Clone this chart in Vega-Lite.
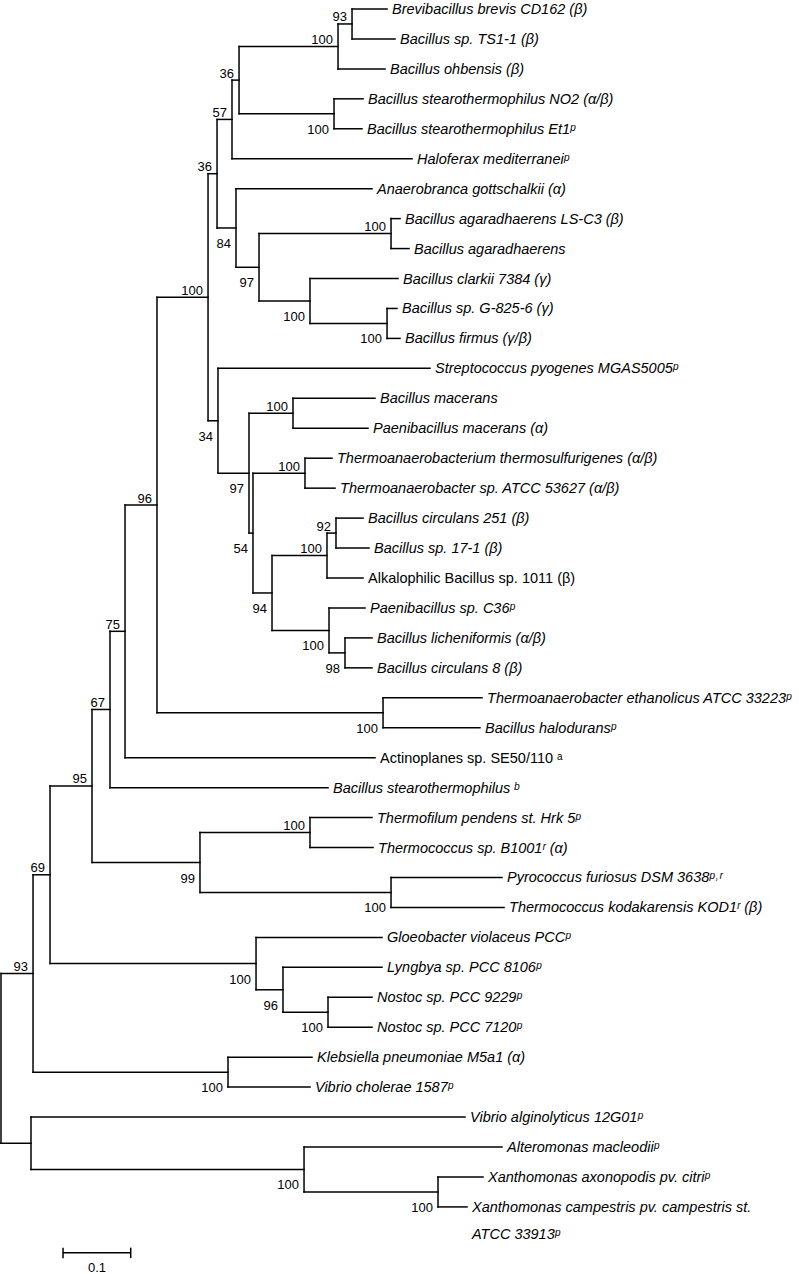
{
  "$schema": "https://vega.github.io/schema/vega-lite/v6.json",
  "width": 799,
  "height": 1274,
  "autosize": {"type": "none"},
  "padding": 0,
  "background": "white",
  "config": {"view": {"stroke": null}, "text": {"font": "Liberation Sans", "color": "black"}},
  "datasets": {
    "tree": [
      {"id":"root","dist":0,"y":36.04,"lo":33.205,"hi":38.875},
      {"id":"n93r","dist":0.0473,"parentDist":0,"y":33.205,"lo":29.91,"hi":36.5,"support":"93","side":"above"},
      {"id":"nB","dist":0.0443,"parentDist":0,"y":38.875,"lo":38,"hi":39.75},
      {"id":"n69","dist":0.0724,"parentDist":0.0473,"y":29.91,"lo":26.945,"hi":32.875,"support":"69","side":"above"},
      {"id":"nKl","dist":0.3353,"parentDist":0.0473,"y":36.5,"lo":36,"hi":37,"support":"100","side":"below"},
      {"id":"n95","dist":0.1344,"parentDist":0.0724,"y":26.945,"lo":24.39,"hi":29.5,"support":"95","side":"above"},
      {"id":"nGl","dist":0.3767,"parentDist":0.0724,"y":32.875,"lo":32,"hi":33.75,"support":"100","side":"below"},
      {"id":"n67","dist":0.1610,"parentDist":0.1344,"y":24.39,"lo":21.78,"hi":27,"support":"67","side":"above"},
      {"id":"n99","dist":0.2939,"parentDist":0.1344,"y":29.5,"lo":28.5,"hi":30.5,"support":"99","side":"below"},
      {"id":"n75","dist":0.1832,"parentDist":0.1610,"y":21.78,"lo":17.5625,"hi":26,"support":"75","side":"above"},
      {"id":"L27","dist":0.4830,"parentDist":0.1610,"y":27,"label":"Bacillus stearothermophilus ᵇ"},
      {"id":"n96","dist":0.2304,"parentDist":0.1832,"y":17.5625,"lo":10.625,"hi":24.5,"support":"96","side":"above"},
      {"id":"L26","dist":0.5524,"parentDist":0.1832,"y":26,"label":"Actinoplanes sp. SE50/110 ᵃ"},
      {"id":"n100","dist":0.3058,"parentDist":0.2304,"y":10.625,"lo":6.5,"hi":14.75,"support":"100","side":"above"},
      {"id":"nE","dist":0.5643,"parentDist":0.2304,"y":24.5,"lo":24,"hi":25,"support":"100","side":"below"},
      {"id":"L24","dist":0.7105,"parentDist":0.5643,"y":24,"label":"Thermoanaerobacter ethanolicus ATCC 33223ᵖ"},
      {"id":"L25","dist":0.7075,"parentDist":0.5643,"y":25,"label":"Bacillus haloduransᵖ"},
      {"id":"n36b","dist":0.3191,"parentDist":0.3058,"y":6.5,"lo":4.6875,"hi":8.3125,"support":"36","side":"above"},
      {"id":"n34","dist":0.3205,"parentDist":0.3058,"y":14.75,"lo":13,"hi":16.5,"support":"34","side":"below"},
      {"id":"n57","dist":0.3412,"parentDist":0.3191,"y":4.6875,"lo":3.375,"hi":6,"support":"57","side":"above"},
      {"id":"n84","dist":0.3471,"parentDist":0.3191,"y":8.3125,"lo":7,"hi":9.625,"support":"84","side":"below"},
      {"id":"n36a","dist":0.3516,"parentDist":0.3412,"y":3.375,"lo":2.25,"hi":4.5,"support":"36","side":"above"},
      {"id":"L6","dist":0.6071,"parentDist":0.3412,"y":6,"label":"Haloferax mediterraneiᵖ"},
      {"id":"n100a","dist":0.4978,"parentDist":0.3516,"y":2.25,"lo":1.5,"hi":3,"support":"100","side":"above"},
      {"id":"nSt","dist":0.4919,"parentDist":0.3516,"y":4.5,"lo":4,"hi":5,"support":"100","side":"below"},
      {"id":"n93","dist":0.5185,"parentDist":0.4978,"y":1.5,"lo":1,"hi":2,"support":"93","side":"above"},
      {"id":"L3","dist":0.5672,"parentDist":0.4978,"y":3,"label":"Bacillus ohbensis (β)"},
      {"id":"L1","dist":0.5702,"parentDist":0.5185,"y":1,"label":"Brevibacillus brevis CD162 (β)"},
      {"id":"L2","dist":0.5820,"parentDist":0.5185,"y":2,"label":"Bacillus sp. TS1-1 (β)"},
      {"id":"L4","dist":0.5347,"parentDist":0.4919,"y":4,"label":"Bacillus stearothermophilus NO2 (α/β)"},
      {"id":"L5","dist":0.5332,"parentDist":0.4919,"y":5,"label":"Bacillus stearothermophilus Et1ᵖ"},
      {"id":"L7","dist":0.5480,"parentDist":0.3471,"y":7,"label":"Anaerobranca gottschalkii (α)"},
      {"id":"n97b","dist":0.3811,"parentDist":0.3471,"y":9.625,"lo":8.5,"hi":10.75,"support":"97","side":"below"},
      {"id":"n100c","dist":0.5761,"parentDist":0.3811,"y":8.5,"lo":8,"hi":9,"support":"100","side":"above"},
      {"id":"n100d","dist":0.4564,"parentDist":0.3811,"y":10.75,"lo":10,"hi":11.5,"support":"100","side":"below"},
      {"id":"L8","dist":0.5894,"parentDist":0.5761,"y":8,"label":"Bacillus agaradhaerens LS-C3 (β)"},
      {"id":"L9","dist":0.6027,"parentDist":0.5761,"y":9,"label":"Bacillus agaradhaerens"},
      {"id":"L10","dist":0.5864,"parentDist":0.4564,"y":10,"label":"Bacillus clarkii 7384 (γ)"},
      {"id":"n100e","dist":0.5702,"parentDist":0.4564,"y":11.5,"lo":11,"hi":12,"support":"100","side":"below"},
      {"id":"L11","dist":0.5849,"parentDist":0.5702,"y":11,"label":"Bacillus sp. G-825-6 (γ)"},
      {"id":"L12","dist":0.5894,"parentDist":0.5702,"y":12,"label":"Bacillus firmus (γ/β)"},
      {"id":"L13","dist":0.6337,"parentDist":0.3205,"y":13,"label":"Streptococcus pyogenes MGAS5005ᵖ"},
      {"id":"n97","dist":0.3663,"parentDist":0.3205,"y":16.5,"lo":14.5,"hi":18.5,"support":"97","side":"below"},
      {"id":"nMac","dist":0.4313,"parentDist":0.3663,"y":14.5,"lo":14,"hi":15,"support":"100","side":"above"},
      {"id":"L14","dist":0.5524,"parentDist":0.4313,"y":14,"label":"Bacillus macerans"},
      {"id":"L15","dist":0.5421,"parentDist":0.4313,"y":15,"label":"Paenibacillus macerans (α)"},
      {"id":"n54","dist":0.3722,"parentDist":0.3663,"y":18.5,"lo":16.5,"hi":20.5,"support":"54","side":"below"},
      {"id":"nTh","dist":0.4490,"parentDist":0.3722,"y":16.5,"lo":16,"hi":17,"support":"100","side":"above"},
      {"id":"L16","dist":0.4889,"parentDist":0.4490,"y":16,"label":"Thermoanaerobacterium thermosulfurigenes (α/β)"},
      {"id":"L17","dist":0.4934,"parentDist":0.4490,"y":17,"label":"Thermoanaerobacter sp. ATCC 53627 (α/β)"},
      {"id":"n94","dist":0.4003,"parentDist":0.3722,"y":20.5,"lo":19.25,"hi":21.75,"support":"94","side":"below"},
      {"id":"n100f","dist":0.4815,"parentDist":0.4003,"y":19.25,"lo":18.5,"hi":20,"support":"100","side":"above"},
      {"id":"n92","dist":0.4948,"parentDist":0.4815,"y":18.5,"lo":18,"hi":19,"support":"92","side":"above"},
      {"id":"L18","dist":0.5347,"parentDist":0.4948,"y":18,"label":"Bacillus circulans 251 (β)"},
      {"id":"L19","dist":0.5436,"parentDist":0.4948,"y":19,"label":"Bacillus sp. 17-1 (β)"},
      {"id":"L20","dist":0.5347,"parentDist":0.4815,"y":20,"label":"Alkalophilic Bacillus sp. 1011 (β)"},
      {"id":"n100g","dist":0.4845,"parentDist":0.4003,"y":21.75,"lo":21,"hi":22.5,"support":"100","side":"below"},
      {"id":"L21","dist":0.5377,"parentDist":0.4845,"y":21,"label":"Paenibacillus sp. C36ᵖ"},
      {"id":"n98","dist":0.5081,"parentDist":0.4845,"y":22.5,"lo":22,"hi":23,"support":"98","side":"below"},
      {"id":"L22","dist":0.5480,"parentDist":0.5081,"y":22,"label":"Bacillus licheniformis (α/β)"},
      {"id":"L23","dist":0.5480,"parentDist":0.5081,"y":23,"label":"Bacillus circulans 8 (β)"},
      {"id":"nTf","dist":0.4564,"parentDist":0.2939,"y":28.5,"lo":28,"hi":29,"support":"100","side":"above"},
      {"id":"L28","dist":0.5480,"parentDist":0.4564,"y":28,"label":"Thermofilum pendens st. Hrk 5ᵖ"},
      {"id":"L29","dist":0.5495,"parentDist":0.4564,"y":29,"label":"Thermococcus sp. B1001ʳ (α)"},
      {"id":"nPy","dist":0.5761,"parentDist":0.2939,"y":30.5,"lo":30,"hi":31,"support":"100","side":"below"},
      {"id":"L30","dist":0.7400,"parentDist":0.5761,"y":30,"label":"Pyrococcus furiosus DSM 3638ᵖ˒ʳ"},
      {"id":"L31","dist":0.7430,"parentDist":0.5761,"y":31,"label":"Thermococcus kodakarensis KOD1ʳ (β)"},
      {"id":"L32","dist":0.5628,"parentDist":0.3767,"y":32,"label":"Gloeobacter violaceus PCCᵖ"},
      {"id":"n96b","dist":0.4165,"parentDist":0.3767,"y":33.75,"lo":33,"hi":34.5,"support":"96","side":"below"},
      {"id":"L33","dist":0.5628,"parentDist":0.4165,"y":33,"label":"Lyngbya sp. PCC 8106ᵖ"},
      {"id":"nNo","dist":0.4830,"parentDist":0.4165,"y":34.5,"lo":34,"hi":35,"support":"100","side":"below"},
      {"id":"L34","dist":0.5480,"parentDist":0.4830,"y":34,"label":"Nostoc sp. PCC 9229ᵖ"},
      {"id":"L35","dist":0.5480,"parentDist":0.4830,"y":35,"label":"Nostoc sp. PCC 7120ᵖ"},
      {"id":"L36","dist":0.4594,"parentDist":0.3353,"y":36,"label":"Klebsiella pneumoniae M5a1 (α)"},
      {"id":"L37","dist":0.4564,"parentDist":0.3353,"y":37,"label":"Vibrio cholerae 1587ᵖ"},
      {"id":"L38","dist":0.6854,"parentDist":0.0443,"y":38,"label":"Vibrio alginolyticus 12G01ᵖ"},
      {"id":"nC","dist":0.4476,"parentDist":0.0443,"y":39.75,"lo":39,"hi":40.5,"support":"100","side":"below"},
      {"id":"L39","dist":0.7400,"parentDist":0.4476,"y":39,"label":"Alteromonas macleodiiᵖ"},
      {"id":"nX","dist":0.6455,"parentDist":0.4476,"y":40.5,"lo":40,"hi":41,"support":"100","side":"below"},
      {"id":"L40","dist":0.7120,"parentDist":0.6455,"y":40,"label":"Xanthomonas axonopodis pv. citriᵖ"},
      {"id":"L41","dist":0.6883,"parentDist":0.6455,"y":41,"label":"Xanthomonas campestris pv. campestris st.\nATCC 33913ᵖ"}
    ],
    "scalebar": [
      {"from": 0.0916, "to": 0.1916, "label": "0.1"}
    ]
  },
  "layer": [
    {
      "data": {"name": "tree"},
      "transform": [{"filter": "isValid(datum.parentDist)"}],
      "mark": {"type": "rule", "color": "black", "strokeWidth": 1.5, "strokeCap": "square"},
      "encoding": {
        "x": {"field": "parentDist", "type": "quantitative", "scale": {"domain": [-0.00148, 1.1787], "nice": false, "zero": false}, "axis": null},
        "x2": {"field": "dist"},
        "y": {"field": "y", "type": "quantitative", "scale": {"domain": [0.7, 43.24], "reverse": true, "nice": false, "zero": false}, "axis": null}
      }
    },
    {
      "data": {"name": "tree"},
      "transform": [{"filter": "isValid(datum.lo)"}],
      "mark": {"type": "rule", "color": "black", "strokeWidth": 1.5, "strokeCap": "square"},
      "encoding": {
        "x": {"field": "dist", "type": "quantitative", "axis": null},
        "y": {"field": "lo", "type": "quantitative", "axis": null},
        "y2": {"field": "hi"}
      }
    },
    {
      "data": {"name": "tree"},
      "transform": [{"filter": "datum.side == 'above'"}],
      "mark": {"type": "text", "align": "right", "baseline": "alphabetic", "dx": -5, "dy": -2.5, "fontSize": 13},
      "encoding": {
        "x": {"field": "dist", "type": "quantitative", "axis": null},
        "y": {"field": "y", "type": "quantitative", "axis": null},
        "text": {"field": "support", "type": "nominal"}
      }
    },
    {
      "data": {"name": "tree"},
      "transform": [{"filter": "datum.side == 'below'"}],
      "mark": {"type": "text", "align": "right", "baseline": "alphabetic", "dx": -5, "dy": 20, "fontSize": 13},
      "encoding": {
        "x": {"field": "dist", "type": "quantitative", "axis": null},
        "y": {"field": "y", "type": "quantitative", "axis": null},
        "text": {"field": "support", "type": "nominal"}
      }
    },
    {
      "data": {"name": "tree"},
      "transform": [{"filter": "isValid(datum.label) && indexof(datum.label, 'Actinoplanes') != 0 && indexof(datum.label, 'Alkalophilic') != 0"}],
      "mark": {"type": "text", "align": "left", "baseline": "alphabetic", "dx": 5, "dy": 5, "fontSize": 14.5, "fontStyle": "italic", "lineBreak": "\n", "lineHeight": 27},
      "encoding": {
        "x": {"field": "dist", "type": "quantitative", "axis": null},
        "y": {"field": "y", "type": "quantitative", "axis": null},
        "text": {"field": "label", "type": "nominal"}
      }
    },
    {
      "data": {"name": "tree"},
      "transform": [{"filter": "isValid(datum.label) && (indexof(datum.label, 'Actinoplanes') == 0 || indexof(datum.label, 'Alkalophilic') == 0)"}],
      "mark": {"type": "text", "align": "left", "baseline": "alphabetic", "dx": 5, "dy": 5, "fontSize": 14.5},
      "encoding": {
        "x": {"field": "dist", "type": "quantitative", "axis": null},
        "y": {"field": "y", "type": "quantitative", "axis": null},
        "text": {"field": "label", "type": "nominal"}
      }
    },
    {
      "data": {"name": "scalebar"},
      "mark": {"type": "rule", "color": "black", "strokeWidth": 1.5},
      "encoding": {
        "x": {"field": "from", "type": "quantitative", "axis": null},
        "x2": {"field": "to"},
        "y": {"datum": 42.53, "type": "quantitative", "axis": null}
      }
    },
    {
      "data": {"name": "scalebar"},
      "mark": {"type": "rule", "color": "black", "strokeWidth": 1.5},
      "encoding": {
        "x": {"field": "from", "type": "quantitative", "axis": null},
        "y": {"datum": 42.36, "type": "quantitative", "axis": null},
        "y2": {"datum": 42.71}
      }
    },
    {
      "data": {"name": "scalebar"},
      "mark": {"type": "rule", "color": "black", "strokeWidth": 1.5},
      "encoding": {
        "x": {"field": "to", "type": "quantitative", "axis": null},
        "y": {"datum": 42.36, "type": "quantitative", "axis": null},
        "y2": {"datum": 42.71}
      }
    },
    {
      "data": {"name": "scalebar"},
      "mark": {"type": "text", "align": "center", "baseline": "alphabetic", "dx": 34, "fontSize": 13},
      "encoding": {
        "x": {"field": "from", "type": "quantitative", "axis": null},
        "y": {"datum": 43.18, "type": "quantitative", "axis": null},
        "text": {"field": "label", "type": "nominal"}
      }
    }
  ]
}
